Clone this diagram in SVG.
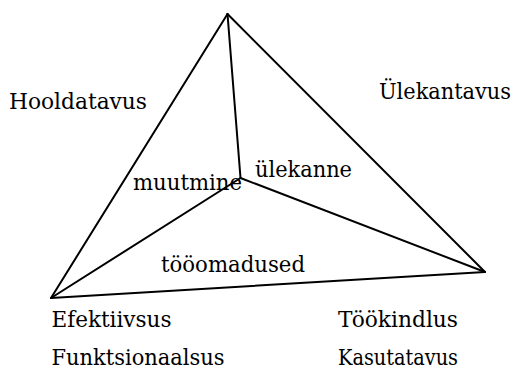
<svg xmlns="http://www.w3.org/2000/svg" width="515" height="369" viewBox="0 0 515 369">
  <style>
    .edge { stroke: #000; stroke-width: 2; fill: none; stroke-linecap: round; }
    .lbl { font-family: "DejaVu Serif", serif; font-size: 22px; fill: #000; }
  </style>
  <rect width="515" height="369" fill="#fff"/>
  <!-- tetrahedron edges -->
  <g id="connectors">
    <line class="edge" x1="227.5" y1="14" x2="51" y2="298"/>
    <line class="edge" x1="227.5" y1="14" x2="485" y2="272"/>
    <line class="edge" x1="51" y1="298" x2="485" y2="272"/>
    <line class="edge" x1="227.5" y1="14" x2="240.5" y2="178"/>
    <line class="edge" x1="240.5" y1="178" x2="51" y2="298"/>
    <line class="edge" x1="240.5" y1="178" x2="485" y2="272"/>
  </g>
  <!-- face and corner labels -->
  <g id="hooldatavus"><text class="lbl" x="9" y="108.5" textLength="138" lengthAdjust="spacingAndGlyphs">Hooldatavus</text></g>
  <g id="ulekantavus"><text class="lbl" x="379" y="98.5" textLength="132" lengthAdjust="spacingAndGlyphs">Ülekantavus</text></g>
  <g id="ulekanne"><text class="lbl" x="255" y="176.5" textLength="97" lengthAdjust="spacingAndGlyphs">ülekanne</text></g>
  <g id="muutmine"><text class="lbl" x="133" y="190" textLength="109" lengthAdjust="spacingAndGlyphs">muutmine</text></g>
  <g id="tooomadused"><text class="lbl" x="161" y="271.5" textLength="144" lengthAdjust="spacingAndGlyphs">tööomadused</text></g>
  <g id="efektiivsus"><text class="lbl" x="51.5" y="326.5" textLength="120" lengthAdjust="spacingAndGlyphs">Efektiivsus</text></g>
  <g id="tookindlus"><text class="lbl" x="338" y="326.5" textLength="120" lengthAdjust="spacingAndGlyphs">Töökindlus</text></g>
  <g id="funktsionaalsus"><text class="lbl" x="51.5" y="365" textLength="173" lengthAdjust="spacingAndGlyphs">Funktsionaalsus</text></g>
  <g id="kasutatavus"><text class="lbl" x="338" y="365" textLength="120" lengthAdjust="spacingAndGlyphs">Kasutatavus</text></g>
</svg>
